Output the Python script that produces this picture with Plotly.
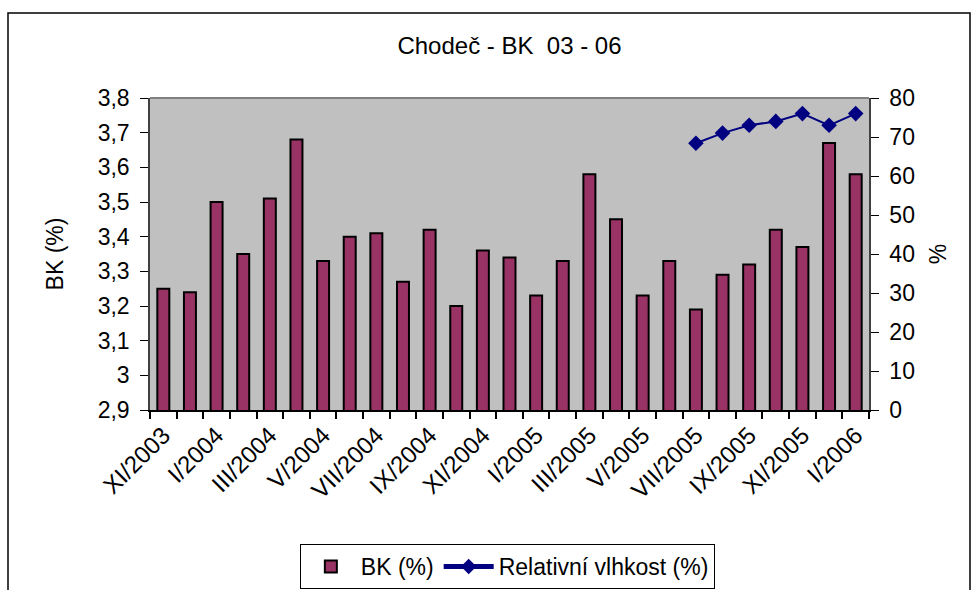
import plotly.graph_objects as go

# Monthly measurements, Chodeč, XI/2003 - I/2006
months = [
    "XI/2003", "XII/2003",
    "I/2004", "II/2004", "III/2004", "IV/2004", "V/2004", "VI/2004",
    "VII/2004", "VIII/2004", "IX/2004", "X/2004", "XI/2004", "XII/2004",
    "I/2005", "II/2005", "III/2005", "IV/2005", "V/2005", "VI/2005",
    "VII/2005", "VIII/2005", "IX/2005", "X/2005", "XI/2005", "XII/2005",
    "I/2006",
]
bk = [
    3.25, 3.24,
    3.50, 3.35, 3.51, 3.68, 3.33, 3.40,
    3.41, 3.27, 3.42, 3.20, 3.36, 3.34,
    3.23, 3.33, 3.58, 3.45, 3.23, 3.33,
    3.19, 3.29, 3.32, 3.42, 3.37, 3.67,
    3.58,
]
humidity_months = ["VII/2005", "VIII/2005", "IX/2005", "X/2005", "XI/2005", "XII/2005", "I/2006"]
humidity = [68.4, 71, 73, 74, 76, 73, 76]

# every other month carries a label
labelled_months = months[::2]

left_ticks = [2.9, 3.0, 3.1, 3.2, 3.3, 3.4, 3.5, 3.6, 3.7, 3.8]
left_tick_text = ["2,9", "3", "3,1", "3,2", "3,3", "3,4", "3,5", "3,6", "3,7", "3,8"]
right_ticks = [0, 10, 20, 30, 40, 50, 60, 70, 80]

FONT = "Liberation Sans, Arial, sans-serif"
W, H = 971, 590
ML, MR, MT, MB = 150, 102, 98, 180
PW, PH = W - ML - MR, H - MT - MB


def px(x):
    return (x - ML) / PW


def py(y):
    return (H - MB - y) / PH


fig = go.Figure()

fig.add_trace(go.Bar(
    x=months, y=bk, name="BK (%)",
    marker=dict(color="#993366", line=dict(color="black", width=2)),
    yaxis="y",
))

fig.add_trace(go.Scatter(
    x=humidity_months, y=humidity, name="Relativní vlhkost (%)",
    mode="lines+markers",
    line=dict(color="#000080", width=2),
    marker=dict(symbol="diamond", size=12, color="#000080"),
    yaxis="y2",
))

# empty trace that registers the boundary-tick axis
fig.add_trace(go.Scatter(
    x=[], y=[], xaxis="x2", yaxis="y",
    mode="markers", showlegend=False, hoverinfo="skip",
))

n = len(months)

fig.update_layout(
    width=W, height=H,
    margin=dict(l=ML, r=MR, t=MT, b=MB, pad=0, autoexpand=False),
    paper_bgcolor="white",
    plot_bgcolor="#C0C0C0",
    font=dict(family=FONT, size=22, color="black"),
    bargap=0.55,
    showlegend=True,
    legend=dict(
        orientation="h",
        x=0.497, xanchor="center",
        y=py(544), yanchor="top",
        bordercolor="black", borderwidth=1,
        bgcolor="white",
        font=dict(family=FONT, size=23),
        itemsizing="constant",
        itemwidth=50,
        tracegroupgap=0,
    ),
    # category axis carrying the month labels
    xaxis=dict(
        type="category",
        categoryorder="array", categoryarray=months,
        range=[-0.5, n - 0.5],
        tickmode="array", tickvals=labelled_months, ticktext=labelled_months,
        ticks="",
        tickangle=-45,
        tickfont=dict(family=FONT, size=24),
        showline=True, linecolor="black", linewidth=1.5,
        showgrid=False, zeroline=False,
        automargin=False,
    ),
    # companion axis drawing tick marks on the category boundaries
    xaxis2=dict(
        overlaying="x", anchor="y", side="bottom",
        type="linear",
        range=[-0.5, n - 0.5],
        tickmode="linear", tick0=-0.5, dtick=1,
        ticks="outside", ticklen=8, tickwidth=1.5, tickcolor="black",
        showticklabels=False,
        showline=False, showgrid=False, zeroline=False,
        automargin=False,
    ),
    yaxis=dict(
        range=[2.9, 3.8],
        tickmode="array", tickvals=left_ticks, ticktext=left_tick_text,
        ticks="outside", ticklen=8, tickcolor="black",
        ticklabelstandoff=6,
        tickfont=dict(family=FONT, size=23),
        showline=True, linecolor="#404040", linewidth=1.5,
        showgrid=False, zeroline=False,
        automargin=False,
        title=dict(text="BK (%)", font=dict(family=FONT, size=23), standoff=28),
    ),
    yaxis2=dict(
        range=[0, 80],
        overlaying="y", side="right",
        tickmode="array", tickvals=right_ticks,
        ticks="outside", ticklen=8, tickcolor="black",
        ticklabelstandoff=6,
        tickfont=dict(family=FONT, size=23),
        showline=True, linecolor="#404040", linewidth=1.5,
        showgrid=False, zeroline=False,
        automargin=False,
        title=dict(text="%", font=dict(family=FONT, size=23), standoff=16),
    ),
    title=dict(
        text="Chodeč - BK  03 - 06",
        x=0.5, xref="paper", xanchor="center",
        y=1 - 46 / H, yanchor="middle",
        font=dict(family=FONT, size=24),
    ),
    shapes=[
        # outer chart frame
        dict(type="rect", xref="paper", yref="paper",
             x0=px(8), x1=px(970), y0=py(620), y1=py(13),
             line=dict(color="black", width=1.5), layer="below"),
        # top edge of the plot area
        dict(type="line", xref="paper", yref="paper",
             x0=0, x1=1, y0=1, y1=1,
             line=dict(color="#808080", width=2)),
    ],
    annotations=[
        dict(text="y (%)", xref="paper", yref="paper",
             x=px(726), y=py(-3), xanchor="left", yanchor="bottom",
             showarrow=False,
             font=dict(family="Liberation Serif, Times New Roman, serif",
                       size=20, color="black")),
    ],
)

fig.write_html("out.html")
